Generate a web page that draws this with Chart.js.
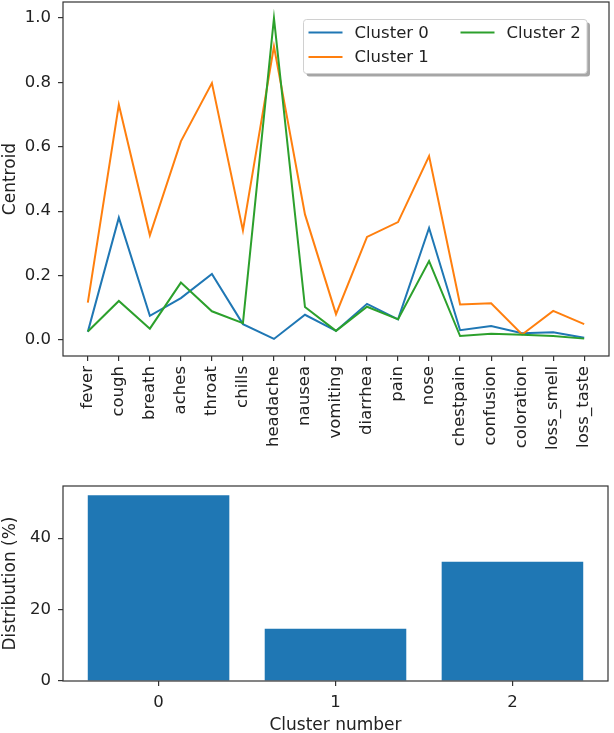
<!DOCTYPE html>
<html><head><meta charset="utf-8">
<script src="https://cdn.jsdelivr.net/npm/chart.js@4.4.0/dist/chart.umd.min.js"></script>
<style>
html,body{margin:0;padding:0;background:#fff;}
#top{position:absolute;left:0;top:0;width:614px;height:470px;}
#bot{position:absolute;left:0;top:470px;width:614px;height:263px;}
</style></head><body>
<div id="top"><canvas id="c1"></canvas></div>
<div id="bot"><canvas id="c2"></canvas></div>
<script>
const symptoms = ['fever','cough','breath','aches','throat','chills','headache','nausea','vomiting','diarrhea','pain','nose','chestpain','confusion','coloration','loss_smell','loss_taste'];
const cluster0 = [0.025, 0.380, 0.075, 0.130, 0.205, 0.049, 0.003, 0.078, 0.028, 0.112, 0.064, 0.348, 0.030, 0.043, 0.021, 0.024, 0.007];
const cluster1 = [0.116, 0.731, 0.325, 0.617, 0.798, 0.340, 0.912, 0.390, 0.080, 0.320, 0.366, 0.571, 0.110, 0.114, 0.017, 0.090, 0.049];
const cluster2 = [0.026, 0.121, 0.035, 0.178, 0.089, 0.052, 1.000, 0.102, 0.028, 0.103, 0.064, 0.245, 0.012, 0.019, 0.016, 0.012, 0.004];
const clusterNames = ['Cluster 0', 'Cluster 1', 'Cluster 2'];
const centroidTicks = [0, 0.2, 0.4, 0.6, 0.8, 1.0];

const clusterIds = [0, 1, 2];
const distribution = [52.0, 14.6, 33.4];
const distTicks = [0, 20, 40];

const FONT = 'DejaVu Sans';
const TXT = '#222';
const colors = ['#1f77b4', '#ff7f0e', '#2ca02c'];
Chart.defaults.font.family = FONT;
Chart.defaults.color = TXT;
Chart.defaults.animation = false;

const framePlugin = {
  id: 'frame',
  afterDatasetsDraw(chart) {
    const {ctx, chartArea: a} = chart;
    ctx.save();
    ctx.strokeStyle = '#333';
    ctx.lineWidth = 1.2;
    ctx.strokeRect(a.left, a.top, a.right - a.left, a.bottom - a.top);
    ctx.restore();
  }
};

function rr(ctx, x, y, w, h, r) {
  ctx.beginPath();
  ctx.moveTo(x + r, y);
  ctx.lineTo(x + w - r, y); ctx.quadraticCurveTo(x + w, y, x + w, y + r);
  ctx.lineTo(x + w, y + h - r); ctx.quadraticCurveTo(x + w, y + h, x + w - r, y + h);
  ctx.lineTo(x + r, y + h); ctx.quadraticCurveTo(x, y + h, x, y + h - r);
  ctx.lineTo(x, y + r); ctx.quadraticCurveTo(x, y, x + r, y);
  ctx.closePath();
}

const legendPlugin = {
  id: 'mplLegend',
  afterDraw(chart) {
    const ctx = chart.ctx;
    const a = chart.chartArea;
    const ds = chart.data.datasets;
    const x0 = a.right - 305.5, y0 = a.top + 17.5, w = 283.5, h = 54;
    ctx.save();
    ctx.fillStyle = 'rgba(0,0,0,0.35)';
    rr(ctx, x0 + 3, y0 + 3, w, h, 3); ctx.fill();
    ctx.fillStyle = '#fff';
    rr(ctx, x0, y0, w, h, 3); ctx.fill();
    ctx.strokeStyle = '#d0d0d0'; ctx.lineWidth = 1;
    rr(ctx, x0, y0, w, h, 3); ctx.stroke();
    const colX = [x0 + 5, x0 + 157];
    const rowY = [y0 + 13, y0 + 37.5];
    ctx.font = '16.5px "' + FONT + '"';
    ctx.textBaseline = 'middle';
    ctx.textAlign = 'left';
    ds.forEach((d, i) => {
      const col = Math.floor(i / 2), row = i % 2;
      const lx = colX[col], ly = rowY[row];
      ctx.strokeStyle = d.borderColor; ctx.lineWidth = 2;
      ctx.beginPath(); ctx.moveTo(lx, ly); ctx.lineTo(lx + 34, ly); ctx.stroke();
      ctx.fillStyle = TXT;
      ctx.fillText(d.label, lx + 46, ly + 1);
    });
    ctx.restore();
  }
};

const axisGrid = {display: true, drawOnChartArea: false, drawTicks: true, tickLength: 5, color: '#333', lineWidth: 1.2};
function fitY(w) { return s => { s.width = w; s.paddingTop = 0; s.paddingBottom = 0; }; }
function fitX(h) { return s => { s.height = h; s.paddingLeft = 0; s.paddingRight = 0; }; }

new Chart(document.getElementById('c1'), {
  type: 'line',
  data: {
    datasets: [cluster0, cluster1, cluster2].map((arr, k) => ({
      label: clusterNames[k],
      data: arr.map((v, i) => ({x: i, y: v})),
      borderColor: colors[k],
      backgroundColor: colors[k],
      borderWidth: 2,
      pointRadius: 0,
      tension: 0,
      fill: false,
      order: 3 - k
    }))
  },
  options: {
    responsive: true, maintainAspectRatio: false, animation: false,
    layout: {padding: {top: 2, right: 5, left: 0, bottom: 0}},
    plugins: {legend: {display: false}, tooltip: {enabled: false}},
    scales: {
      x: {
        type: 'linear', min: -0.8, max: 16.8,
        afterBuildTicks: s => { s.ticks = symptoms.map((_, i) => ({value: i})); },
        afterFit: fitX(114),
        grid: axisGrid, border: {display: false},
        ticks: {autoSkip: false, minRotation: 90, maxRotation: 90, padding: 5, font: {size: 16.5}, color: TXT,
                callback: v => symptoms[v]}
      },
      y: {
        min: -0.05, max: 1.05,
        afterBuildTicks: s => { s.ticks = centroidTicks.map(v => ({value: v})); },
        afterFit: fitY(63),
        grid: axisGrid, border: {display: false},
        ticks: {padding: 7, font: {size: 16.5}, color: TXT, callback: v => Number(v).toFixed(1)},
        title: {display: true, text: 'Centroid', font: {size: 17}, color: TXT, padding: {top: 0, bottom: 0}}
      }
    }
  },
  plugins: [framePlugin, legendPlugin]
});

new Chart(document.getElementById('c2'), {
  type: 'bar',
  data: {
    datasets: [{
      label: 'Distribution',
      data: clusterIds.map((c, i) => ({x: c, y: distribution[i]})),
      backgroundColor: '#1f77b4',
      borderWidth: 0,
      barPercentage: 0.8,
      categoryPercentage: 1.0
    }]
  },
  options: {
    responsive: true, maintainAspectRatio: false, animation: false,
    layout: {padding: {top: 16, right: 6, left: 0, bottom: 0}},
    plugins: {legend: {display: false}, tooltip: {enabled: false}},
    scales: {
      x: {
        type: 'linear', min: -0.54, max: 2.54, offset: false,
        afterBuildTicks: s => { s.ticks = clusterIds.map(v => ({value: v})); },
        afterFit: fitX(52),
        grid: Object.assign({}, axisGrid, {offset: false}), border: {display: false},
        ticks: {padding: 7, font: {size: 16.5}, color: TXT, callback: v => String(v)},
        title: {display: true, text: 'Cluster number', font: {size: 17}, color: TXT, padding: {top: 0, bottom: -3}}
      },
      y: {
        min: 0, max: 54.6,
        afterBuildTicks: s => { s.ticks = distTicks.map(v => ({value: v})); },
        afterFit: fitY(63),
        grid: axisGrid, border: {display: false},
        ticks: {padding: 7, font: {size: 16.5}, color: TXT},
        title: {display: true, text: 'Distribution (%)', font: {size: 17}, color: TXT, padding: {top: 0, bottom: 0}}
      }
    }
  },
  plugins: [framePlugin]
});
</script>
</body></html>
